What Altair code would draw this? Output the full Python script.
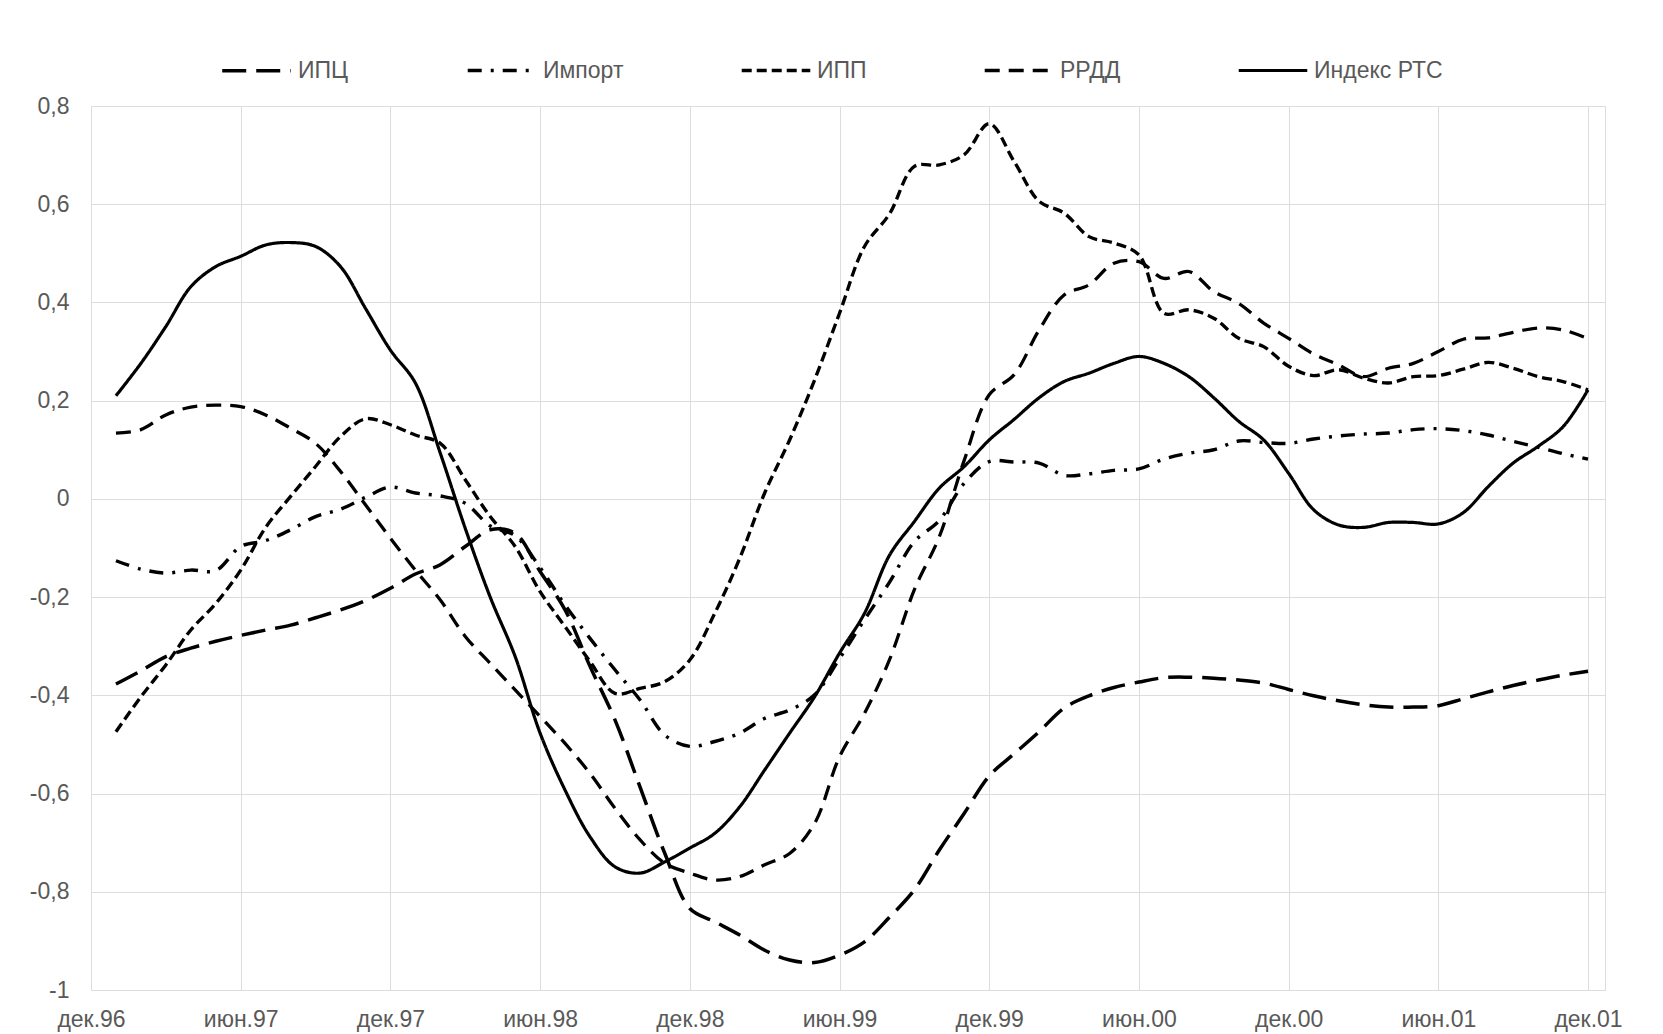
import altair as alt
import pandas as pd

series_names = ["ИПЦ", "Импорт", "ИПП", "РРДД", "Индекс РТС"]

tick_labels = ["дек.96", "июн.97", "дек.97", "июн.98", "дек.98", "июн.99",
               "дек.99", "июн.00", "дек.00", "июн.01", "дек.01"]

months = list(range(1, 61))

ipc = [-0.377, -0.350, -0.321, -0.304, -0.290, -0.278, -0.267, -0.257, -0.242, -0.226,
       -0.207, -0.182, -0.153, -0.134, -0.097, -0.063, -0.070, -0.148, -0.226, -0.341,
       -0.450, -0.586, -0.722, -0.834, -0.861, -0.888, -0.919, -0.939, -0.944, -0.929,
       -0.902, -0.852, -0.796, -0.715, -0.640, -0.564, -0.519, -0.474, -0.426, -0.401,
       -0.384, -0.373, -0.364, -0.363, -0.365, -0.369, -0.375, -0.388, -0.401, -0.411,
       -0.419, -0.424, -0.424, -0.421, -0.407, -0.393, -0.380, -0.369, -0.359, -0.351]

imp = [-0.126, -0.143, -0.151, -0.145, -0.146, -0.097, -0.085, -0.063, -0.036, -0.021,
       0.003, 0.024, 0.012, 0.006, -0.009, -0.055, -0.075, -0.140, -0.216, -0.284,
       -0.348, -0.409, -0.481, -0.504, -0.494, -0.477, -0.447, -0.430, -0.399, -0.325,
       -0.246, -0.170, -0.087, -0.044, 0.032, 0.076, 0.075, 0.073, 0.048, 0.051,
       0.058, 0.061, 0.081, 0.093, 0.100, 0.118, 0.115, 0.113, 0.122, 0.128,
       0.132, 0.134, 0.141, 0.143, 0.139, 0.130, 0.117, 0.105, 0.092, 0.081]

ipp = [-0.474, -0.403, -0.338, -0.267, -0.213, -0.145, -0.058, 0.005, 0.066, 0.127,
       0.163, 0.151, 0.130, 0.113, 0.039, -0.036, -0.097, -0.189, -0.260, -0.331,
       -0.396, -0.386, -0.372, -0.328, -0.233, -0.121, 0.012, 0.120, 0.242, 0.378,
       0.514, 0.580, 0.677, 0.680, 0.701, 0.764, 0.687, 0.606, 0.582, 0.534,
       0.521, 0.497, 0.378, 0.385, 0.368, 0.327, 0.310, 0.270, 0.251, 0.263,
       0.246, 0.236, 0.249, 0.251, 0.264, 0.278, 0.266, 0.249, 0.239, 0.222]

rrdd = [0.134, 0.141, 0.171, 0.187, 0.191, 0.188, 0.171, 0.144, 0.113, 0.056,
        -0.012, -0.080, -0.145, -0.206, -0.280, -0.335, -0.389, -0.443, -0.498, -0.559,
        -0.630, -0.694, -0.742, -0.762, -0.776, -0.769, -0.745, -0.722, -0.661, -0.525,
        -0.437, -0.328, -0.185, -0.077, 0.079, 0.212, 0.253, 0.344, 0.415, 0.436,
        0.480, 0.483, 0.449, 0.463, 0.422, 0.398, 0.358, 0.327, 0.295, 0.273,
        0.249, 0.266, 0.276, 0.300, 0.325, 0.328, 0.339, 0.348, 0.344, 0.326]

rts = [0.210, 0.276, 0.351, 0.432, 0.473, 0.494, 0.517, 0.522, 0.514, 0.473,
       0.388, 0.303, 0.236, 0.093, -0.060, -0.200, -0.321, -0.477, -0.593, -0.688,
       -0.749, -0.762, -0.739, -0.711, -0.681, -0.627, -0.552, -0.477, -0.403, -0.314,
       -0.233, -0.115, -0.046, 0.022, 0.066, 0.120, 0.162, 0.206, 0.239, 0.256,
       0.276, 0.290, 0.276, 0.249, 0.206, 0.158, 0.120, 0.052, -0.022, -0.053,
       -0.058, -0.048, -0.048, -0.051, -0.028, 0.025, 0.073, 0.107, 0.147, 0.222]

all_series = [ipc, imp, ipp, rrdd, rts]

rows = []
for name, vals in zip(series_names, all_series):
    for m, v in zip(months, vals):
        rows.append({"m": m, "value": v, "series": name})
df = pd.DataFrame(rows)

dashes = [[24, 10], [14, 9, 3, 9], [10, 5], [15, 9], [1, 0]]
widths = [3.5, 3.2, 3.2, 3.2, 2.5]

label_arr = "[" + ",".join("'" + t + "'" for t in tick_labels) + "]"
y_vals = [-1, -0.8, -0.6, -0.4, -0.2, 0, 0.2, 0.4, 0.6, 0.8]
x_vals = list(range(0, 61, 6))

font = "Liberation Sans"
fsize = 23

chart = alt.Chart(df).mark_line(color="black", interpolate="catmull-rom").encode(
    x=alt.X("m:Q",
            scale=alt.Scale(domain=[0, 60.68], nice=False, zero=False),
            axis=alt.Axis(values=x_vals, labelExpr=label_arr + "[round(datum.value/6)]",
                          title=None, grid=True, ticks=False, domain=False,
                          labelPadding=18, labelFontSize=fsize, labelColor="#595959",
                          labelFont=font, labelFlush=False)),
    y=alt.Y("value:Q",
            scale=alt.Scale(domain=[-1, 0.8], nice=False, zero=False),
            axis=alt.Axis(values=y_vals,
                          labelExpr="replace(toString(datum.value), '.', ',')",
                          title=None, grid=True, ticks=False, domain=False,
                          labelPadding=22, labelFontSize=fsize, labelColor="#595959",
                          labelFont=font)),
    strokeDash=alt.StrokeDash("series:N",
                              scale=alt.Scale(domain=series_names, range=dashes),
                              sort=series_names,
                              legend=alt.Legend(title=None, orient="none",
                                                direction="horizontal",
                                                legendX=129, legendY=-72,
                                                symbolType="stroke",
                                                symbolSize=4700,
                                                symbolStrokeWidth=3.2,
                                                symbolStrokeColor="black",
                                                labelFontSize=fsize,
                                                labelFont=font,
                                                labelColor="#595959",
                                                labelOffset=5,
                                                columnPadding=111,
                                                labelLimit=300)),
    strokeWidth=alt.StrokeWidth("series:N",
                                scale=alt.Scale(domain=series_names, range=widths),
                                legend=None),
    detail="series:N",
).properties(
    width=1514, height=884,
    autosize=alt.AutoSizeParams(type="none"),
    padding={"left": 83, "top": 98, "right": 50, "bottom": 44},
).configure_axis(
    gridColor="#d9d9d9", gridWidth=1.6,
).configure_view(stroke=None).configure(background="white")

chart.save("out.html", embed_options={"renderer": "svg", "actions": False})
